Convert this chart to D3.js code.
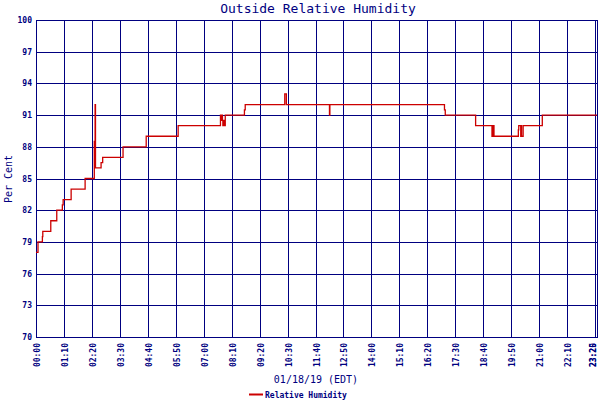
<!DOCTYPE html>
<html><head><meta charset="utf-8">
<script src="https://cdn.jsdelivr.net/npm/d3@7"></script>
<style>
html,body{margin:0;padding:0;background:#fff;}
svg{display:block;}
text{font-family:"DejaVu Sans Mono","Liberation Mono",monospace;fill:#000080;}
</style></head>
<body>
<svg id="c" width="600" height="400"></svg>
<script>
// ---- data ----
const title = "Outside Relative Humidity";
const xTitle = "01/18/19 (EDT)";
const yTitle = "Per Cent";
const seriesName = "Relative Humidity";
const yTicks = [70, 73, 76, 79, 82, 85, 88, 91, 94, 97, 100];
const xTickLabels = ["00:00","01:10","02:20","03:30","04:40","05:50","07:00","08:10","09:20","10:30",
  "11:40","12:50","14:00","15:10","16:20","17:30","18:40","19:50","21:00","22:10","23:20","23:25"];
// minutes since midnight
const times = [0, 5, 16, 17, 37, 52, 66, 68, 88, 123, 146, 148, 149, 163, 167, 218, 276, 356,
  462, 463, 464, 465, 466, 467, 468, 469, 470, 471, 472, 474, 522, 524, 623, 627, 735, 736,
  1023, 1025, 1101, 1142, 1144, 1145, 1146, 1147, 1148, 1149, 1150, 1208, 1209, 1214, 1215, 1216,
  1219, 1220, 1221, 1268, 1405];
const humidity = [78, 79, 79.5, 80, 81, 82, 82.5, 83, 84, 85, 88.5, 92, 86, 86.5, 87, 88, 89, 90,
  91, 90.5, 91, 90.5, 91, 90.5, 90, 90.5, 90, 90.5, 90, 91, 91.5, 92, 93, 92, 91, 92,
  91.5, 91, 90, 89, 89, 90, 90, 89, 89, 89, 89, 89.6, 90, 89, 90, 89,
  89, 90, 90, 91, 91];

// ---- layout ----
const svg = d3.select("#c");
const L = 36, R = 597, T = 20, B = 337;
const navy = "#000080";
const parseMin = s => { const [h, m] = s.split(":").map(Number); return h * 60 + m; };
const xTickVals = xTickLabels.map(parseMin);

const x = d3.scaleLinear().domain([0, d3.max(xTickVals)]).range([L, R]);
const y = d3.scaleLinear().domain([70, 100]).range([B, T]);

// vertical grid
svg.append("g").selectAll("line").data(xTickVals).join("line")
  .attr("x1", d => Math.round(x(d)) + 0.5).attr("x2", d => Math.round(x(d)) + 0.5)
  .attr("y1", T).attr("y2", B + 1)
  .attr("stroke", navy).attr("stroke-width", 1);
// horizontal grid
svg.append("g").selectAll("line").data(yTicks).join("line")
  .attr("x1", L).attr("x2", R + 1)
  .attr("y1", d => Math.round(y(d)) + 0.5).attr("y2", d => Math.round(y(d)) + 0.5)
  .attr("stroke", navy).attr("stroke-width", 1);

// y tick labels
svg.append("g").selectAll("text").data(yTicks).join("text")
  .attr("x", 32).attr("y", d => Math.round(y(d)) + 3)
  .attr("text-anchor", "end").attr("font-size", 8).attr("font-weight", "bold")
  .text(d => d);

// x tick labels (rotated)
svg.append("g").selectAll("text").data(xTickLabels).join("text")
  .attr("transform", (d, i) => `translate(${Math.min(Math.round(x(xTickVals[i])) + 3.5, 596)},343) rotate(-90)`)
  .attr("text-anchor", "end").attr("font-size", 8).attr("font-weight", "bold")
  .text(d => d);

// titles
svg.append("text").attr("x", 318).attr("y", 13).attr("text-anchor", "middle")
  .attr("font-size", 13).text(title);
svg.append("text").attr("x", 316).attr("y", 383).attr("text-anchor", "middle")
  .attr("font-size", 10).text(xTitle);
svg.append("text").attr("transform", "translate(12,179) rotate(-90)").attr("text-anchor", "middle")
  .attr("font-size", 10).text(yTitle);

// series line
const pts = times.map((t, i) => [t, humidity[i]]);
const line = d3.line().x(d => x(d[0])).y(d => y(d[1])).curve(d3.curveStepAfter);
svg.append("path").datum(pts).attr("d", line)
  .attr("fill", "none").attr("stroke", "#cc0000").attr("stroke-width", 1.3);

// legend
svg.append("line").attr("x1", 249).attr("x2", 263).attr("y1", 394.5).attr("y2", 394.5)
  .attr("stroke", "#cc0000").attr("stroke-width", 2);
svg.append("text").attr("x", 265).attr("y", 397.5).attr("font-size", 8).attr("font-weight", "bold")
  .text(seriesName);
</script>
</body></html>
